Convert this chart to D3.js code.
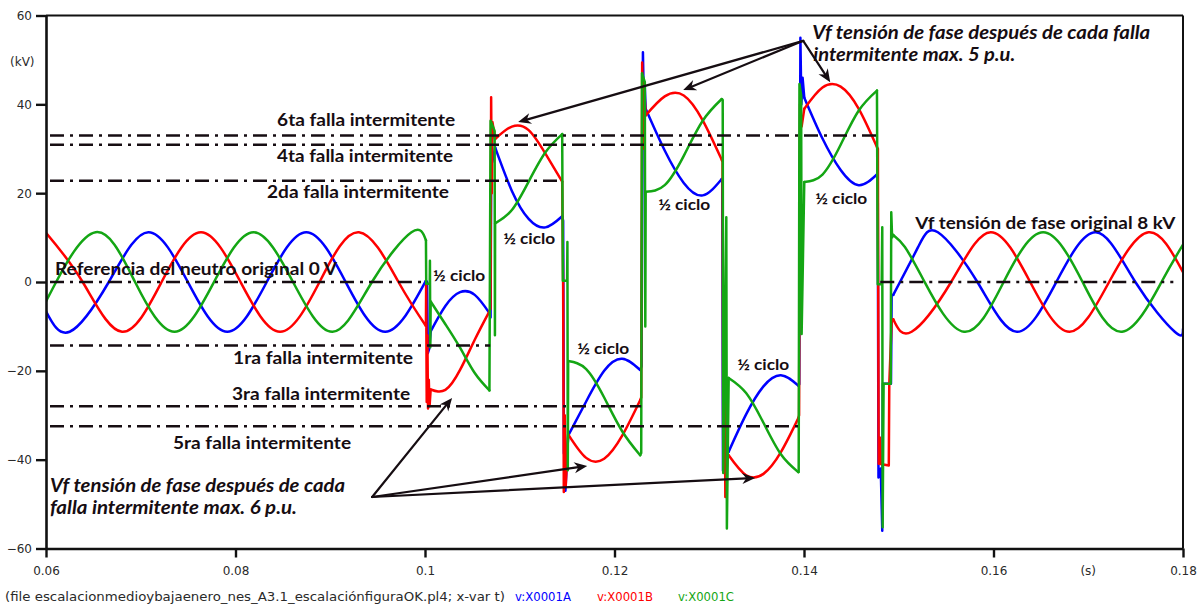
<!DOCTYPE html>
<html>
<head>
<meta charset="utf-8">
<script src="https://cdn.jsdelivr.net/npm/d3@7"></script>
<style>
  html, body { margin: 0; padding: 0; background: #ffffff; }
  svg { display: block; }
</style>
</head>
<body>
<svg id="chart" width="1204" height="608"></svg>
<script>
// ---------- axes ----------
const xDomain = [0.06, 0.18];
const yDomain = [-60, 60];
const xTicks = [0.06, 0.08, 0.10, 0.12, 0.14, 0.16, 0.18];
const xTickLabels = ["0.06", "0.08", "0.1", "0.12", "0.14", "0.16", "0.18"];
const yTicks = [60, 40, 20, 0, -20, -40, -60];

// ---------- series (t in s, v in kV) ----------
const phaseNames = ["v:X0001A", "v:X0001B", "v:X0001C"];
const phaseColors = ["#0000ff", "#ff0000", "#14a614"];

// steady state before the first fault
const preA = [[0.06,-6.6],[0.0625,-11.2],[0.06663,0],[0.0708,11.2],[0.07497,0],[0.07913,-11.2],[0.0833,0],[0.08747,11.2],[0.09163,0],[0.0958,-11.2],[0.1001,0.3]];
const preB = [[0.06,11.1],[0.06387,0],[0.06803,-11.2],[0.0722,0],[0.07636,11.2],[0.08053,0],[0.0847,-11.2],[0.08887,0],[0.09303,11.2],[0.0972,0],[0.1001,-9.9]];
const preC = [[0.06,-4.4],[0.06107,0],[0.06524,11.2],[0.0694,0],[0.07357,-11.2],[0.07773,0],[0.0819,11.2],[0.08607,0],[0.09024,-11.2],[0.0944,0],[0.09857,11.2],[0.1001,9.4]];

// half-cycle stretches between successive intermittent faults
const faultT = [
  [0.1006, 0.10215, 0.1037, 0.10525, 0.1068],
  [0.1074, 0.10917, 0.11094, 0.11271, 0.11448],
  [0.11511, 0.11701, 0.11891, 0.12081, 0.12271],
  [0.12329, 0.1253, 0.12731, 0.12931, 0.13132],
  [0.13205, 0.13389, 0.13572, 0.13756, 0.13939],
  [0.14003, 0.14195, 0.14387, 0.14578, 0.1477]
];
const faultA = [
  [-11.1, -5.4, -2.3, -2.9, -7.0],
  [30.3, 20.5, 14.2, 12.3, 14.8],
  [-34.6, -26.9, -20.0, -17.3, -19.8],
  [39.0, 29.6, 22.3, 19.5, 23.2],
  [-38.2, -29.8, -23.5, -21.0, -23.3],
  [41.5, 32.3, 25.2, 21.8, 24.2]
];
const faultB = [
  [-24.2, -24.3, -19.8, -13.0, -6.6],
  [32.2, 35.0, 34.2, 28.9, 22.6],
  [-34.3, -39.6, -39.8, -34.6, -26.6],
  [37.5, 41.8, 42.0, 36.4, 27.5],
  [-39.0, -43.5, -43.2, -38.3, -30.7],
  [39.0, 43.8, 44.0, 39.0, 30.4]
];
const faultC = [
  [-4.4, -9.5, -14.8, -20.5, -24.4],
  [13.2, 16.2, 22.6, 29.2, 33.3],
  [-17.8, -19.6, -26.0, -33.6, -39.0],
  [20.3, 21.8, 28.4, 36.3, 41.2],
  [-21.6, -25.0, -31.7, -38.8, -42.8],
  [22.5, 24.2, 30.9, 38.6, 43.1]
];

// steady state after the fault is cleared
const postA = [[0.14942,-2.9],[0.15205,7.9],[0.15413,11.2],[0.1583,0],[0.16247,-11.2],[0.16663,0],[0.1708,11.2],[0.17497,0],[0.17913,-11.2],[0.18,-10.6]];
const postB = [[0.14942,-8.4],[0.15136,-11.2],[0.15553,0],[0.1597,11.2],[0.16387,0],[0.16803,-11.2],[0.1722,0],[0.17636,11.2],[0.18,2.2]];
const postC = [[0.14942,10.6],[0.15065,7.9],[0.15273,0],[0.1569,-11.2],[0.16107,0],[0.16524,11.2],[0.1694,0],[0.17357,-11.2],[0.17773,0],[0.18,8.4]];

// switching transients (arc ignition / extinction)
const jumpA = [
  [[0.1001,0.3],[0.10022,0.0],[0.1003,-16.0],[0.10045,-15.0],[0.1006,-11.1]],
  [[0.1068,-7.0],[0.10692,-8.0],[0.107,30.5],[0.1071,27.0],[0.1074,30.3]],
  [[0.11448,14.8],[0.11458,13.8],[0.11466,-38.6],[0.11476,-35.0],[0.11482,-47.0],[0.11511,-34.6]],
  [[0.12271,-19.8],[0.12285,-19.0],[0.123,51.7],[0.1231,40.0],[0.12318,45.0],[0.12329,39.0]],
  [[0.13132,23.2],[0.13137,23.0],[0.13145,-42.5],[0.1316,-38.0],[0.13205,-38.2]],
  [[0.13939,-23.3],[0.1395,-23.0],[0.13962,55.0],[0.13972,40.0],[0.13985,46.0],[0.14003,41.5]],
  [[0.1477,24.2],[0.14778,24.0],[0.14786,-44.0],[0.1481,-42.0],[0.14826,-56.0],[0.14832,-22.9],[0.14918,-22.9],[0.14925,-3.0],[0.14942,-2.9]]
];
const jumpB = [
  [[0.1001,-9.9],[0.10012,-0.5],[0.10018,-27.0],[0.10025,-12.0],[0.10032,-28.5],[0.1004,-22.0],[0.10048,-28.0],[0.1006,-24.2]],
  [[0.1068,-6.6],[0.10692,-6.0],[0.10698,41.6],[0.10705,20.0],[0.10712,36.0],[0.1074,32.2]],
  [[0.11448,22.6],[0.11458,-1.0],[0.11465,-47.3],[0.11475,-30.0],[0.11485,-46.0],[0.11511,-34.3]],
  [[0.12271,-26.6],[0.12282,-26.0],[0.12292,49.4],[0.123,30.0],[0.1231,45.0],[0.12329,37.5]],
  [[0.13132,27.5],[0.1314,27.0],[0.13148,-40.0],[0.1316,-10.0],[0.1317,-48.4],[0.1319,-40.0],[0.13205,-39.0]],
  [[0.13939,-30.7],[0.13948,-30.0],[0.13958,40.0],[0.13975,35.0],[0.14003,39.0]],
  [[0.1477,30.4],[0.1478,30.0],[0.14788,-40.9],[0.148,-35.0],[0.1481,-41.0],[0.14895,-41.3],[0.149,-23.0],[0.14925,-9.0],[0.14942,-8.4]]
];
const jumpC = [
  [[0.1001,9.4],[0.10013,-0.4],[0.1005,-0.4],[0.10052,4.8],[0.10056,-14.7],[0.1006,-4.4]],
  [[0.1068,-24.4],[0.10692,36.3],[0.10735,34.0],[0.10738,-12.0],[0.1074,13.2]],
  [[0.11448,33.3],[0.11455,0.3],[0.115,0.3],[0.11503,9.0],[0.11507,-42.4],[0.11511,-17.8]],
  [[0.12271,-39.0],[0.12282,-38.5],[0.1229,47.0],[0.1232,45.0],[0.12325,-10.0],[0.12329,20.3]],
  [[0.13132,41.2],[0.13142,41.0],[0.13148,-43.0],[0.1318,14.6],[0.13186,-55.5],[0.13205,-21.6]],
  [[0.13939,-42.8],[0.13944,-42.8],[0.13952,44.6],[0.1397,42.0],[0.13975,-11.7],[0.14003,22.5]],
  [[0.1477,43.1],[0.14778,-0.5],[0.1482,-0.5],[0.14826,12.3],[0.1483,-55.2],[0.1484,-22.9],[0.14915,-22.9],[0.14921,15.7],[0.1493,10.0],[0.14942,10.6]]
];

// neutral displacement after each fault (kV) and the time each reference line runs to
const neutralLevels = [0, -14.3, 22.8, -28.0, 30.9, -32.5, 33.0];
const neutralEnds   = [0.10022, 0.10688, 0.11448, 0.12282, 0.13137, 0.13939, 0.1477];
const neutralRestored = [0.14805, 0.17898];
const neutralLabels = ["Referencia del neutro original 0 V", "1ra falla intermitente", "2da falla intermitente",
                       "3ra falla intermitente", "4ta falla intermitente", "5ra falla intermitente", "6ta falla intermitente"];

// ---------- layout ----------
const svg = d3.select("#chart");
const x = d3.scaleLinear().domain(xDomain).range([46, 1183]);
const y = d3.scaleLinear().domain(yDomain).range([548.5, 15.5]);
const ink = "#160d12";

svg.append("defs").append("clipPath").attr("id", "plotClip")
  .append("rect").attr("x", x(0.06)).attr("y", y(60) - 1).attr("width", x(0.18) - x(0.06)).attr("height", y(-60) - y(60) + 2);

// ---------- waveforms ----------
const smooth = d3.line().x(d => x(d[0])).y(d => y(d[1])).curve(d3.curveNatural);
const straight = d3.line().x(d => x(d[0])).y(d => y(d[1]));

const phases = [
  { pre: preA, fault: faultA, post: postA, jumps: jumpA },
  { pre: preB, fault: faultB, post: postB, jumps: jumpB },
  { pre: preC, fault: faultC, post: postC, jumps: jumpC }
];

const plot = svg.append("g").attr("clip-path", "url(#plotClip)");
phases.forEach((p, i) => {
  const segs = [p.pre, ...faultT.map((ts, k) => ts.map((t, j) => [t, p.fault[k][j]])), p.post];
  const g = plot.append("g")
    .attr("fill", "none").attr("stroke", phaseColors[i])
    .attr("stroke-width", 2.5).attr("stroke-linejoin", "round").attr("stroke-linecap", "round");
  g.selectAll("path.seg").data(segs).join("path").attr("class", "seg").attr("d", smooth);
  g.selectAll("path.jump").data(p.jumps).join("path").attr("class", "jump").attr("d", straight);
});

// ---------- neutral reference lines ----------
const dash = "14,6,3,6";
const refs = svg.append("g").attr("stroke", ink).attr("stroke-width", 2.5).attr("stroke-dasharray", dash).attr("fill", "none");
neutralLevels.forEach((v, i) => {
  refs.append("line").attr("x1", x(0.06) + 4).attr("x2", x(neutralEnds[i]))
    .attr("y1", y(v)).attr("y2", y(v));
});
refs.append("line").attr("x1", x(neutralRestored[0])).attr("x2", x(neutralRestored[1]))
  .attr("y1", y(0)).attr("y2", y(0));

// ---------- axes & frame ----------
const axisFont = "'DejaVu Sans', Verdana, sans-serif";
const yAxis = svg.append("g").attr("transform", `translate(${x(0.06)},0)`)
  .call(d3.axisLeft(y).tickValues(yTicks).tickSize(10).tickSizeOuter(0).tickPadding(4).tickFormat(d3.format("d")));
const xAxis = svg.append("g").attr("transform", `translate(0,${y(-60)})`)
  .call(d3.axisBottom(x).tickValues(xTicks).tickSize(9).tickSizeOuter(0).tickPadding(9).tickFormat((d, i) => xTickLabels[i]));
[yAxis, xAxis].forEach(a => {
  a.select(".domain").attr("stroke", "#111").attr("stroke-width", 2.6);
  a.selectAll(".tick line").attr("stroke", "#111").attr("stroke-width", 2.4);
  a.selectAll(".tick text").attr("fill", "#2a2a2a").attr("font-family", axisFont).attr("font-size", 12);
});
const frame = svg.append("g").attr("stroke", "#111").attr("stroke-width", 2).attr("fill", "none");
frame.append("line").attr("x1", x(0.06)).attr("x2", x(0.18)).attr("y1", y(60)).attr("y2", y(60));
frame.append("line").attr("x1", x(0.18)).attr("x2", x(0.18)).attr("y1", y(60)).attr("y2", y(-60));

svg.append("text").attr("x", 10).attr("y", 66).text("(kV)")
  .attr("font-family", axisFont).attr("font-size", 12).attr("fill", "#2a2a2a");
svg.append("text").attr("x", (x(0.16) + x(0.18)) / 2).attr("y", 575).attr("text-anchor", "middle").text("(s)")
  .attr("font-family", axisFont).attr("font-size", 12).attr("fill", "#2a2a2a");

// ---------- footer ----------
const foot = svg.append("text").attr("x", 5).attr("y", 601)
  .attr("font-family", axisFont).attr("font-size", 11.5).attr("fill", "#2a2a2a");
foot.append("tspan").text("(file escalacionmedioybajaenero_nes_A3.1_escalaciónfiguraOK.pl4; x-var t)")
  .attr("textLength", 500).attr("lengthAdjust", "spacingAndGlyphs");
const legendX = [515, 597, 678];
phaseNames.forEach((n, i) => {
  svg.append("text").attr("x", legendX[i]).attr("y", 601).text(n)
    .attr("font-family", axisFont).attr("font-size", 11.5).attr("fill", phaseColors[i])
    .attr("textLength", 56).attr("lengthAdjust", "spacingAndGlyphs");
});

// ---------- annotations ----------
const noteFont = "Lato, 'Open Sans', sans-serif";
function note(txt, t, v, width, size, italic) {
  svg.append("text").attr("x", x(t)).attr("y", y(v)).text(txt)
    .attr("font-family", noteFont).attr("font-weight", 700).attr("font-size", size)
    .attr("font-style", italic ? "italic" : "normal").attr("fill", ink)
    .attr("textLength", width).attr("lengthAdjust", "spacingAndGlyphs");
}
// labels of the neutral reference lines: [t, v, width]
const neutralLabelPos = [[0.06095, 1.58, 282], [0.07974, -18.46, 180], [0.08333, 18.91, 182],
                         [0.07964, -26.57, 178], [0.08439, 27.02, 176], [0.07341, -37.60, 178], [0.08439, 35.12, 178]];
neutralLabels.forEach((s, i) => note(s, neutralLabelPos[i][0], neutralLabelPos[i][1], neutralLabelPos[i][2], 16.5, false));

note("Vf tensión de fase original 8 kV", 0.151744, 11.93, 260, 17, false);

const halfCycle = [[0.100857, 0.23], [0.108248, 8.56], [0.116061, -16.21], [0.124611, 16.21], [0.132951, -19.81], [0.141187, 17.56]];
halfCycle.forEach(p => note("½ ciclo", p[0], p[1], 52, 15, false));

note("Vf tensión de fase después de cada falla", 0.14087, 54.71, 338, 18, true);
note("intermitente max. 5 p.u.", 0.140977, 49.76, 202, 18, true);
note("Vf tensión de fase después de cada", 0.060422, -47.28, 295, 18, true);
note("falla intermitente max. 6 p.u.", 0.060422, -52.23, 247, 18, true);

// arrows: tail and head in data units
const arrowsTop = [[0.13992, 54.3, 0.10983, 36.0], [0.13992, 54.3, 0.12725, 43.2], [0.13992, 54.3, 0.14277, 45.0]];
const arrowsBottom = [[0.09442, -48.4, 0.10286, -26.1], [0.09442, -48.4, 0.11712, -41.4], [0.09442, -48.4, 0.13485, -44.1]];
const arrows = svg.append("g");
[...arrowsTop, ...arrowsBottom].forEach(a => {
  const x0 = x(a[0]), y0 = y(a[1]), x1 = x(a[2]), y1 = y(a[3]);
  const ang = Math.atan2(y1 - y0, x1 - x0);
  const L = 13, Wd = 5.5, notch = 9;
  const ux = Math.cos(ang), uy = Math.sin(ang), nx = -uy, ny = ux;
  arrows.append("line").attr("x1", x0).attr("y1", y0)
    .attr("x2", x1 - ux * notch).attr("y2", y1 - uy * notch)
    .attr("stroke", ink).attr("stroke-width", 2.2).attr("stroke-linecap", "round");
  const pts = [[x1, y1], [x1 - ux * L + nx * Wd, y1 - uy * L + ny * Wd], [x1 - ux * notch, y1 - uy * notch], [x1 - ux * L - nx * Wd, y1 - uy * L - ny * Wd]];
  arrows.append("path").attr("d", "M" + pts.map(p => p.join(",")).join("L") + "Z").attr("fill", ink);
});
</script>
</body>
</html>
